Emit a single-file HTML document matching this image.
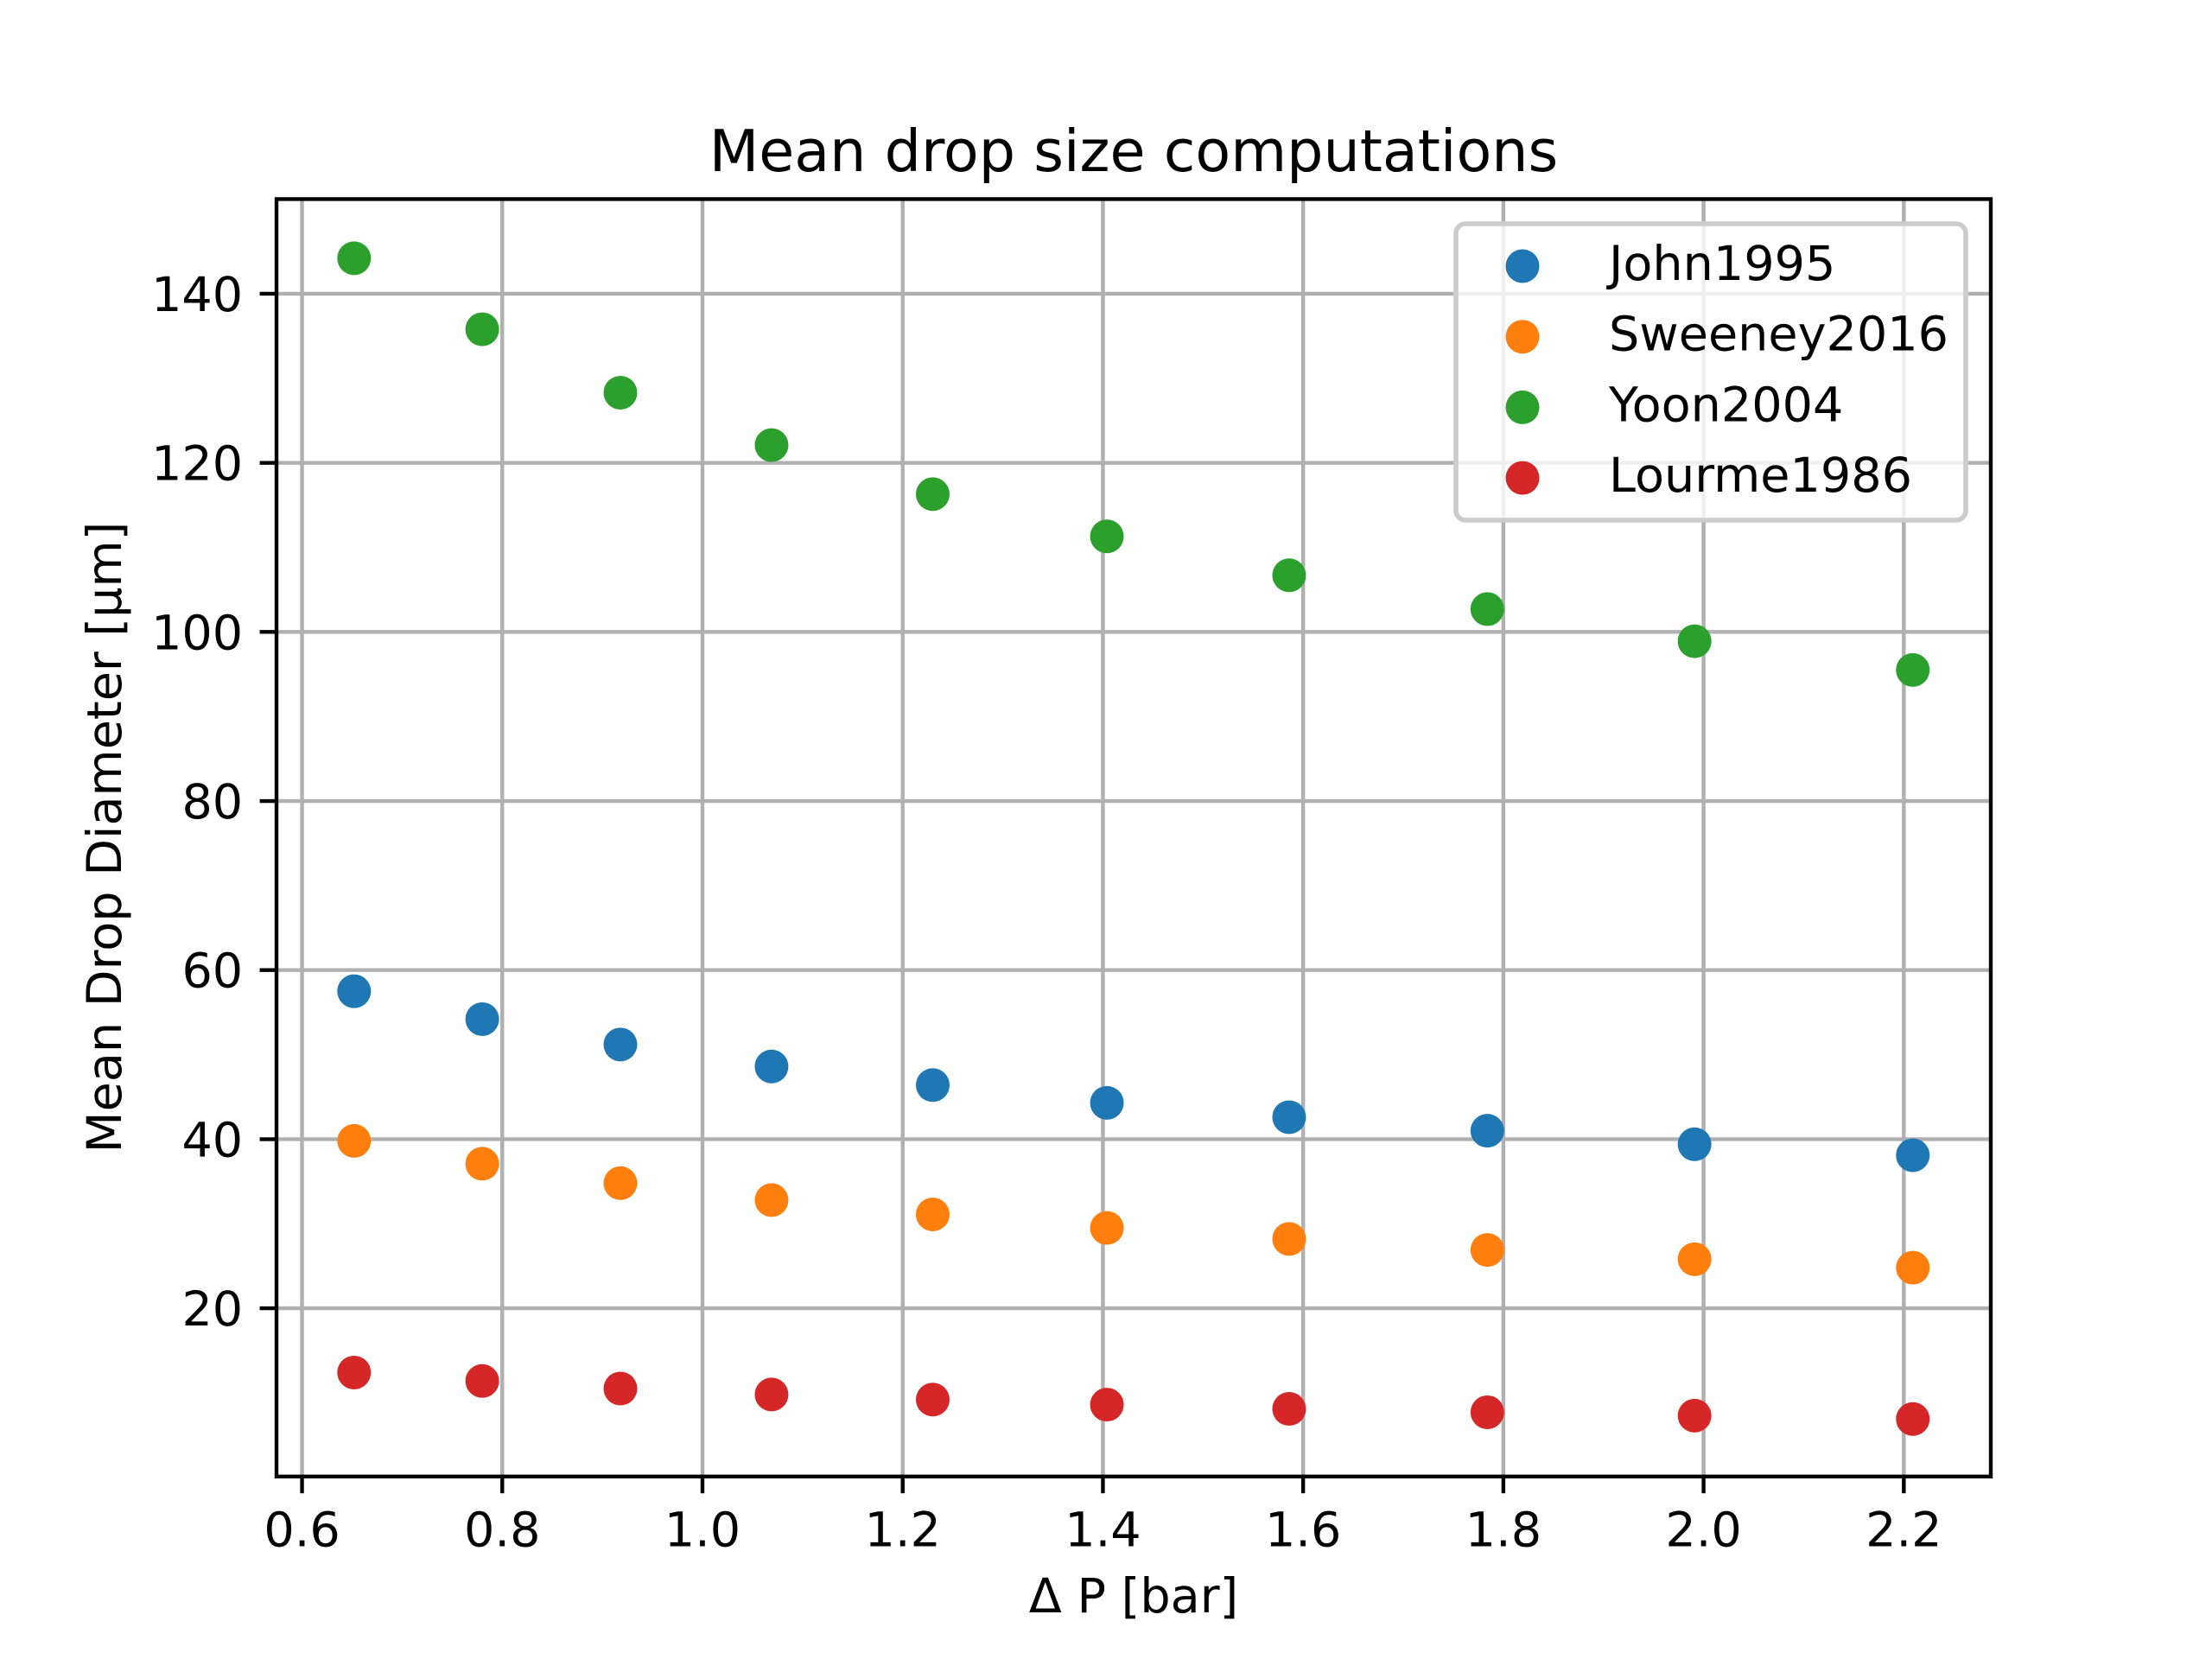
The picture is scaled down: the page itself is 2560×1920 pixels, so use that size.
<!DOCTYPE html>
<html><head><meta charset="utf-8"><style>
html,body{margin:0;padding:0;background:#fff;}
svg{display:block;font-family:"DejaVu Sans","Liberation Sans",sans-serif;}
</style></head><body>
<svg id="chart" width="2560" height="1920" viewBox="0 0 2560 1920" xmlns="http://www.w3.org/2000/svg">
<rect width="2560" height="1920" fill="#fff"/>
<g id="grid"></g>
<g id="marks"></g>
<rect x="320" y="230.4" width="1984" height="1478.4" fill="none" stroke="#000" stroke-width="4.4"/>
<g id="ticks"></g>
<text x="1312" y="198" font-size="66.7" text-anchor="middle">Mean drop size computations</text>
<text x="1312" y="1866" font-size="55.6" text-anchor="middle">Δ P [bar]</text>
<text x="140" y="969" font-size="55.6" text-anchor="middle" transform="rotate(-90 140 969)">Mean Drop Diameter [µm]</text>
<g id="legend"></g>
</svg>
<script>
const xValues = [0.652, 0.780, 0.918, 1.069, 1.230, 1.404, 1.586, 1.784, 1.991, 2.209];
const seriesNames = ["John1995", "Sweeney2016", "Yoon2004", "Lourme1986"];
const seriesColors = ["#1f77b4", "#ff7f0e", "#2ca02c", "#d62728"];
const john1995 = [57.5, 54.2, 51.2, 48.6, 46.4, 44.3, 42.6, 41.0, 39.4, 38.1];
const sweeney2016 = [39.8, 37.1, 34.8, 32.8, 31.1, 29.5, 28.2, 26.9, 25.8, 24.8];
const yoon2004 = [144.2, 135.8, 128.3, 122.1, 116.3, 111.3, 106.7, 102.7, 98.9, 95.5];
const lourme1986 = [12.4, 11.4, 10.5, 9.8, 9.2, 8.6, 8.1, 7.7, 7.3, 6.9];
const xTicks = [0.6, 0.8, 1.0, 1.2, 1.4, 1.6, 1.8, 2.0, 2.2];
const xTickLabels = ["0.6", "0.8", "1.0", "1.2", "1.4", "1.6", "1.8", "2.0", "2.2"];
const yTicks = [20, 40, 60, 80, 100, 120, 140];
const yTickLabels = ["20", "40", "60", "80", "100", "120", "140"];

const NS = "http://www.w3.org/2000/svg";
const X0 = 320, X1 = 2304, Y0 = 1708.8, Y1 = 230.4;
const xMin = 0.5745, xMax = 2.2869, yMin = 0.1, yMax = 151.2;
function sx(v){ return X0 + (v - xMin) / (xMax - xMin) * (X1 - X0); }
function sy(v){ return Y0 - (v - yMin) / (yMax - yMin) * (Y0 - Y1); }
function mk(tag, attrs, parent){
  const e = document.createElementNS(NS, tag);
  for (const k in attrs) e.setAttribute(k, attrs[k]);
  parent.appendChild(e);
  return e;
}
const grid = document.getElementById('grid');
const ticks = document.getElementById('ticks');
const marks = document.getElementById('marks');
const legend = document.getElementById('legend');

xTicks.forEach((t, i) => {
  const x = sx(t);
  const g = mk('line', {x1:x, x2:x, y1:Y1, y2:Y0, stroke:'#b0b0b0', 'stroke-width':4.4}, grid);
  
  
  const tk = mk('line', {x1:x, x2:x, y1:Y0, y2:Y0 + 19.4, stroke:'#000', 'stroke-width':4.4}, ticks);
  
  
  const lb = mk('text', {x:x, y:Y0 + 19.4 + 19.4 + 42, 'font-size':55.6, 'text-anchor':'middle'}, ticks);
  lb.textContent = xTickLabels[i];
  
  
});
yTicks.forEach((t, i) => {
  const y = sy(t);
  const g = mk('line', {x1:X0, x2:X1, y1:y, y2:y, stroke:'#b0b0b0', 'stroke-width':4.4}, grid);
  
  
  const tk = mk('line', {x1:X0 - 19.4, x2:X0, y1:y, y2:y, stroke:'#000', 'stroke-width':4.4}, ticks);
  
  
  const lb = mk('text', {x:X0 - 19.4 - 19.4, y:y + 20, 'font-size':55.6, 'text-anchor':'end'}, ticks);
  lb.textContent = yTickLabels[i];
  
  
});

const allSeries = [john1995, sweeney2016, yoon2004, lourme1986];
allSeries.forEach((vals, s) => {
  vals.forEach((v, i) => {
    const c = mk('circle', {cx:sx(xValues[i]), cy:sy(v), r:19.5, fill:seriesColors[s]}, marks);
    
    
  });
});

const box = mk('rect', {x:1685, y:259, width:590, height:343, rx:11, fill:'#fff', 'fill-opacity':0.8, stroke:'#cccccc', 'stroke-width':5.6}, legend);


seriesNames.forEach((n, s) => {
  const y = 308 + s * 81.7;
  const c = mk('circle', {cx:1762, cy:y, r:19.5, fill:seriesColors[s]}, legend);
  
  
  const t = mk('text', {x:1862, y:y + 16, 'font-size':55.6}, legend);
  t.textContent = n;
  
  
});
</script>
</body></html>
